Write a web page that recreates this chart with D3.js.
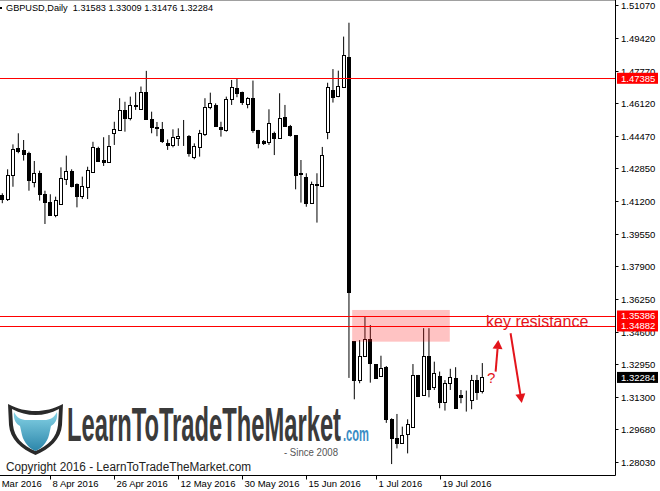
<!DOCTYPE html>
<html>
<head>
<meta charset="utf-8">
<script src="https://cdn.jsdelivr.net/npm/d3@7"></script>
<style>
  body { margin: 0; background: #fff; }
  svg { display: block; }
  text { font-family: "Liberation Sans", Arial, sans-serif; }
</style>
</head>
<body>
<svg id="chart"></svg>
<script>
// GBPUSD daily, 91 bars
const open = [1.4149,1.4128,1.4249,1.4385,1.4377,1.4360,1.4215,1.4262,1.4154,1.4114,
  1.4049,1.4104,1.4232,1.4271,1.4203,1.4146,1.4191,1.4267,1.4385,1.4326,
  1.4316,1.4461,1.4478,1.4579,1.4537,1.4604,1.4584,1.4668,1.4532,1.4491,
  1.4481,1.4413,1.4402,1.4439,1.4447,1.4447,1.4340,1.4393,1.4457,1.4595,
  1.4604,1.4494,1.4478,1.4633,1.4691,1.4668,1.4607,1.4638,1.4478,1.4422,
  1.4419,1.4463,1.4436,1.4545,1.4498,1.4452,1.4259,1.4242,1.4111,1.4205,
  1.4197,1.4469,1.4680,1.4649,1.4694,1.4845,1.3412,1.3216,1.3338,1.3421,
  1.3296,1.3236,1.3280,1.3017,1.2924,1.2899,1.2943,1.2977,1.3241,1.3140,
  1.3338,1.3182,1.3236,1.3106,1.3202,1.3224,1.3140,1.3132,1.3115,1.3216,
  1.31583];
const high = [1.4158,1.4279,1.4405,1.4461,1.4427,1.4368,1.4321,1.4272,1.4171,1.4153,
  1.4141,1.4289,1.4348,1.4279,1.4208,1.4242,1.4292,1.4418,1.4393,1.4441,
  1.4452,1.4519,1.4638,1.4620,1.4646,1.4668,1.4697,1.4776,1.4570,1.4518,
  1.4518,1.4430,1.4481,1.4486,1.4528,1.4452,1.4410,1.4478,1.4638,1.4666,
  1.4612,1.4519,1.4646,1.4730,1.4739,1.4671,1.4643,1.4727,1.4478,1.4427,
  1.4582,1.4469,1.4663,1.4604,1.4503,1.4452,1.4326,1.4259,1.4217,1.4259,
  1.4392,1.4716,1.4785,1.4777,1.4949,1.5019,1.3412,1.3417,1.3535,1.3493,
  1.3296,1.3338,1.3286,1.3022,1.3044,1.2980,1.3017,1.3296,1.3241,1.3477,
  1.3477,1.3308,1.3258,1.3215,1.3272,1.3280,1.3165,1.3162,1.3241,1.3241,
  1.33009];
const low = [1.4108,1.4119,1.4191,1.4360,1.4323,1.4171,1.4188,1.4121,1.4003,1.4049,
  1.4037,1.4099,1.4200,1.4188,1.4087,1.4129,1.4129,1.4267,1.4318,1.4296,
  1.4316,1.4402,1.4478,1.4469,1.4526,1.4579,1.4584,1.4528,1.4461,1.4446,
  1.4412,1.4377,1.4390,1.4397,1.4397,1.4343,1.4330,1.4343,1.4447,1.4582,
  1.4498,1.4444,1.4469,1.4604,1.4643,1.4604,1.4587,1.4463,1.4385,1.4402,
  1.4402,1.4351,1.4436,1.4500,1.4444,1.4178,1.4111,1.4090,1.4108,1.4010,
  1.4197,1.4431,1.4616,1.4643,1.4694,1.3226,1.3118,1.3199,1.3337,1.3202,
  1.3224,1.3232,1.2999,1.2791,1.2870,1.2896,1.2845,1.2977,1.3131,1.3135,
  1.3128,1.3165,1.3073,1.3061,1.3165,1.3073,1.3098,1.3056,1.3068,1.3115,
  1.31476];
const close = [1.4128,1.4250,1.4380,1.4373,1.4356,1.4225,1.4262,1.4154,1.4114,1.4049,
  1.4124,1.4234,1.4271,1.4196,1.4146,1.4196,1.4276,1.4390,1.4323,1.4318,
  1.4397,1.4481,1.4579,1.4540,1.4604,1.4601,1.4671,1.4533,1.4494,1.4488,
  1.4422,1.4402,1.4441,1.4447,1.4445,1.4360,1.4397,1.4461,1.4592,1.4612,
  1.4498,1.4481,1.4633,1.4697,1.4666,1.4620,1.4638,1.4475,1.4410,1.4413,
  1.4511,1.4436,1.4540,1.4500,1.4452,1.4250,1.4254,1.4108,1.4205,1.4202,
  1.4351,1.4695,1.4643,1.4700,1.4856,1.3661,1.3216,1.3338,1.3421,1.3303,
  1.3224,1.3278,1.3017,1.2921,1.2896,1.2938,1.2993,1.3241,1.3135,1.3338,
  1.3169,1.3249,1.3106,1.3202,1.3232,1.3073,1.3131,1.3131,1.3216,1.3156,
  1.32284];

const priceTicks = [1.51070,1.49420,1.47770,1.46120,1.44470,1.42850,1.41200,1.39550,
  1.37900,1.36250,1.34600,1.32950,1.31300,1.29680,1.28030];
const dateTickBars = [-3, 9, 21, 33, 45, 57, 70, 82];
const dateTickLabels = ["23 Mar 2016","8 Apr 2016","26 Apr 2016","12 May 2016",
  "30 May 2016","15 Jun 2016","1 Jul 2016","19 Jul 2016"];

const levels = [1.47385, 1.35386, 1.34882];
const lastPrice = 1.32284;
const zoneBars = [65.6, 83.9];
const zonePrices = [1.3569, 1.3409];
const upArrow = [[92.5, 1.32574], [93.0, 1.34175]];
const downArrow = [[95.3, 1.34513], [97.4, 1.30995]];
const questionAt = [90.9, 1.32004];
const noteAt = [90.7, 1.34831];
const title = "GBPUSD,Daily  1.31583 1.33009 1.31476 1.32284";

const width = 660, height = 491;
const axisX = 615.5, axisY = 475.5;

const svg = d3.select("#chart").attr("width", width).attr("height", height);

const xs = d3.scaleLinear().domain([0, open.length - 1]).range([2.3, 482.3]);
const ys = d3.scaleLinear().domain([1.28030, 1.51070]).range([461.7, 5.3]);

// frame
svg.append("line").attr("x1", 0).attr("x2", axisX).attr("y1", 0.5).attr("y2", 0.5)
  .attr("stroke", "#a0a0a0");
svg.append("rect").attr("x", 0).attr("y", 7).attr("width", 2).attr("height", 2).attr("fill", "#000");

svg.append("text").attr("x", 6).attr("y", 11).attr("font-size", "9.5px").attr("fill", "#000")
  .attr("textLength", 207).attr("lengthAdjust", "spacingAndGlyphs")
  .attr("xml:space", "preserve").style("white-space", "pre").text(title);

// candles
const bars = d3.range(open.length);
const g = svg.append("g");
g.selectAll("line.wick").data(bars).enter().append("line")
  .attr("class", "wick")
  .attr("x1", (i) => xs(i)).attr("x2", (i) => xs(i))
  .attr("y1", (i) => ys(high[i])).attr("y2", (i) => ys(low[i]))
  .attr("stroke", "#000").attr("stroke-width", 1);

g.selectAll("rect.body").data(bars).enter().append("rect")
  .attr("class", "body")
  .attr("x", (i) => Math.round(xs(i)) - 1.5)
  .attr("y", (i) => Math.round(ys(Math.max(open[i], close[i]))) + 0.5)
  .attr("width", 3)
  .attr("height", (i) => Math.max(0, Math.round(ys(Math.min(open[i], close[i]))) - Math.round(ys(Math.max(open[i], close[i])))))
  .attr("fill", (i) => (close[i] >= open[i] ? "#fff" : "#000"))
  .attr("stroke", "#000").attr("stroke-width", 1);

// resistance zone
svg.append("rect")
  .attr("x", xs(zoneBars[0])).attr("width", xs(zoneBars[1]) - xs(zoneBars[0]))
  .attr("y", ys(zonePrices[0])).attr("height", ys(zonePrices[1]) - ys(zonePrices[0]))
  .attr("fill", "#ff2020").attr("opacity", 0.27);

// horizontal levels
levels.forEach((p) => {
  const y = Math.round(ys(p)) + 0.5;
  svg.append("line").attr("x1", 0).attr("x2", axisX).attr("y1", y).attr("y2", y)
    .attr("stroke", "#ff0000").attr("stroke-width", 1);
});

// axes
svg.append("line").attr("x1", axisX).attr("x2", axisX).attr("y1", 0).attr("y2", axisY)
  .attr("stroke", "#000");
svg.append("line").attr("x1", 0).attr("x2", axisX).attr("y1", axisY).attr("y2", axisY)
  .attr("stroke", "#000");

priceTicks.forEach((p) => {
  const y = Math.round(ys(p)) + 0.5;
  svg.append("line").attr("x1", axisX).attr("x2", axisX + 3).attr("y1", y).attr("y2", y)
    .attr("stroke", "#000");
  svg.append("text").attr("x", 621).attr("y", y + 3.5).attr("font-size", "9.5px")
    .attr("fill", "#000").text(p.toFixed(5));
});

dateTickBars.forEach((b, k) => {
  const x = Math.round(xs(b)) + 0.5;
  svg.append("line").attr("x1", x).attr("x2", x).attr("y1", axisY).attr("y2", axisY + 4)
    .attr("stroke", "#000");
  svg.append("text").attr("x", x + 2).attr("y", 487).attr("font-size", "9.5px")
    .attr("fill", "#000").text(dateTickLabels[k]);
});

// price tags on the axis
function tag(p, color) {
  const y = ys(p);
  svg.append("rect").attr("x", 617).attr("y", y - 5.5).attr("width", 41).attr("height", 11)
    .attr("fill", color);
  svg.append("text").attr("x", 621).attr("y", y + 3.5).attr("font-size", "9.5px")
    .attr("fill", "#fff").text(p.toFixed(5));
}
levels.forEach((p) => tag(p, "#ff0000"));
tag(lastPrice, "#000");

// annotations
const red = "#e3141b";
function arrow(a, b) {
  const x1 = xs(a[0]), y1 = ys(a[1]), x2 = xs(b[0]), y2 = ys(b[1]);
  const ang = Math.atan2(y2 - y1, x2 - x1);
  const hl = 9, hw = 5;
  const bx = x2 - hl * Math.cos(ang), by = y2 - hl * Math.sin(ang);
  svg.append("line").attr("x1", x1).attr("y1", y1).attr("x2", bx).attr("y2", by)
    .attr("stroke", red).attr("stroke-width", 2);
  const px = -Math.sin(ang) * hw, py = Math.cos(ang) * hw;
  svg.append("polygon")
    .attr("points", `${x2},${y2} ${bx + px},${by + py} ${bx - px},${by - py}`)
    .attr("fill", red);
}
arrow(upArrow[0], upArrow[1]);
arrow(downArrow[0], downArrow[1]);

svg.append("text").attr("x", xs(questionAt[0])).attr("y", ys(questionAt[1]))
  .attr("font-size", "15px").attr("fill", red).text("?");
svg.append("text").attr("x", xs(noteAt[0])).attr("y", ys(noteAt[1]))
  .attr("font-size", "16px").attr("fill", red).text("key resistance");

// logo
const defs = svg.append("defs");
const grad = defs.append("linearGradient").attr("id", "teal")
  .attr("x1", 0).attr("y1", 0).attr("x2", 0).attr("y2", 1);
grad.append("stop").attr("offset", "0%").attr("stop-color", "#86d3e6");
grad.append("stop").attr("offset", "100%").attr("stop-color", "#2c86aa");

const logo = svg.append("g").attr("transform", "translate(8,403)");
logo.append("path")
  .attr("d", "M0,1 C10,6 18,8 27.5,8 C37,8 45,6 55,1 L54,22 C53,36 42,46 27.5,52 C13,46 2,36 1,22 Z")
  .attr("fill", "#2a2a2a");
logo.append("path")
  .attr("d", "M4,6 C12,10 19,12 27.5,12 C36,12 43,10 51,6 L50,22 C49,34 40,43 27.5,48 C15,43 6,34 5,22 Z")
  .attr("fill", "#fff");
logo.append("path")
  .attr("d", "M6,9 C9,15 13,17 19,17 L36,17 C42,17 46,15 49,9 C50,16 47,21 43,23 L41,32 C39,40 33,46 27.5,48 C22,46 16,40 14,32 L12,23 C8,21 5,16 6,9 Z")
  .attr("fill", "url(#teal)");

svg.append("text").attr("x", 67).attr("y", 441)
  .attr("font-family", "'Liberation Sans Narrow', 'Liberation Sans', sans-serif")
  .attr("font-size", "48px").attr("font-weight", "bold").attr("fill", "#3b3b3b")
  .attr("textLength", 274).attr("lengthAdjust", "spacingAndGlyphs")
  .text("LearnToTradeTheMarket");
svg.append("text").attr("x", 343).attr("y", 441)
  .attr("font-family", "'Liberation Sans Narrow', 'Liberation Sans', sans-serif")
  .attr("font-size", "20px").attr("font-weight", "bold").attr("fill", "#3a8cc4")
  .attr("textLength", 26).attr("lengthAdjust", "spacingAndGlyphs").text(".com");
svg.append("text").attr("x", 284).attr("y", 456)
  .attr("font-family", "'Liberation Sans Narrow', 'Liberation Sans', sans-serif")
  .attr("font-size", "10.5px").attr("fill", "#555")
  .attr("textLength", 54).attr("lengthAdjust", "spacingAndGlyphs").text("- Since 2008");
svg.append("text").attr("x", 6).attr("y", 471).attr("font-size", "12px").attr("fill", "#222")
  .attr("textLength", 245).attr("lengthAdjust", "spacingAndGlyphs")
  .text("Copyright 2016 - LearnToTradeTheMarket.com");
</script>
</body>
</html>
